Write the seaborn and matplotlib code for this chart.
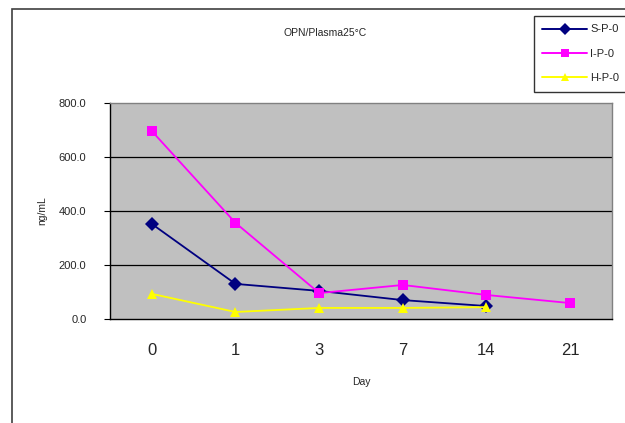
import matplotlib
matplotlib.use("Agg")
import matplotlib.pyplot as plt
import seaborn as sns
import pandas as pd
from matplotlib.patches import Rectangle

days = ["0", "1", "3", "7", "14", "21"]
s_p_0 = [352, 130, 104, 70, 48, None]
i_p_0 = [696, 356, 96, 126, 89, 59]
h_p_0 = [93, 26, 41, 41, 44, None]
series_names = ["S-P-0", "I-P-0", "H-P-0"]
colors = ["#000080", "#FF00FF", "#FFFF00"]
markers = ["D", "s", "^"]
yticks = [0, 200, 400, 600, 800]

rows = []
for name, vals in zip(series_names, [s_p_0, i_p_0, h_p_0]):
    for i, (d, v) in enumerate(zip(days, vals)):
        if v is not None:
            rows.append({"pos": i, "Day": d, "value": v, "series": name})
df = pd.DataFrame(rows)

sns.set_theme(style="white")
plt.rcParams['font.family'] = ['Liberation Sans', 'DejaVu Sans']

fig = plt.figure(figsize=(6.25, 4.23), dpi=100)
fig.patch.set_facecolor("white")
# outer chart border (cropped)
fig.patches.append(Rectangle((12/625, -0.1), 1.2, 1 - 9/423 + 0.1, transform=fig.transFigure,
                             fill=False, edgecolor="#404040", linewidth=1.2))

ax = fig.add_axes([110/625, (423-319)/423, (612-110)/625, (319-103)/423])
ax.set_facecolor("#C0C0C0")

sns.lineplot(data=df, x="pos", y="value", hue="series", style="series",
             hue_order=series_names, style_order=series_names,
             palette=colors, markers=markers, dashes=False,
             markersize=7.5, markeredgewidth=0, linewidth=1.3, ax=ax, legend=False)

ax.set_xlim(-0.5, 5.5)
ax.set_ylim(0, 800)
ax.set_yticks(yticks)
ax.set_yticklabels([f"{v:.1f}" for v in yticks], fontsize=8)
ax.set_xticks(range(len(days)))
ax.set_xticklabels(days, fontsize=12, fontweight="medium")
ax.set_xticks([i + 0.5 for i in range(len(days) - 1)], minor=True)
ax.tick_params(axis="x", which="major", length=0, pad=17)
ax.tick_params(axis="x", which="minor", length=5, direction="inout", color="black", width=0.8)
ax.tick_params(axis="y", length=4, direction="out", color="black", width=0.8, pad=13, left=True)
for v in yticks[1:-1]:
    ax.axhline(v, color="black", linewidth=0.9, zorder=0.5)
for sp in ["left", "bottom"]:
    ax.spines[sp].set_color("black")
    ax.spines[sp].set_linewidth(1.0)
for sp in ["top", "right"]:
    ax.spines[sp].set_color("#808080")
    ax.spines[sp].set_linewidth(1.0)

ax.set_xlabel("Day", fontsize=7.5, labelpad=14)
ax.set_ylabel("ng/mL", fontsize=7.5, labelpad=8)
fig.text(325/625, 1 - 33/423, "OPN/Plasma25°C", fontsize=7.5, ha="center", va="center")

handles = [plt.Line2D([], [], color=c, marker=m, markersize=6, markeredgewidth=0, linewidth=1.4)
           for c, m in zip(colors, markers)]
leg = fig.legend(handles, series_names, loc="upper left",
                 bbox_to_anchor=(528/625, 1 - 10/423), frameon=True, fontsize=8,
                 handlelength=4.0, labelspacing=1.3, borderpad=0.8, handletextpad=0.3,
                 fancybox=False, edgecolor="black")
leg.get_frame().set_linewidth(1.0)

fig.savefig("out.png", dpi=100)
